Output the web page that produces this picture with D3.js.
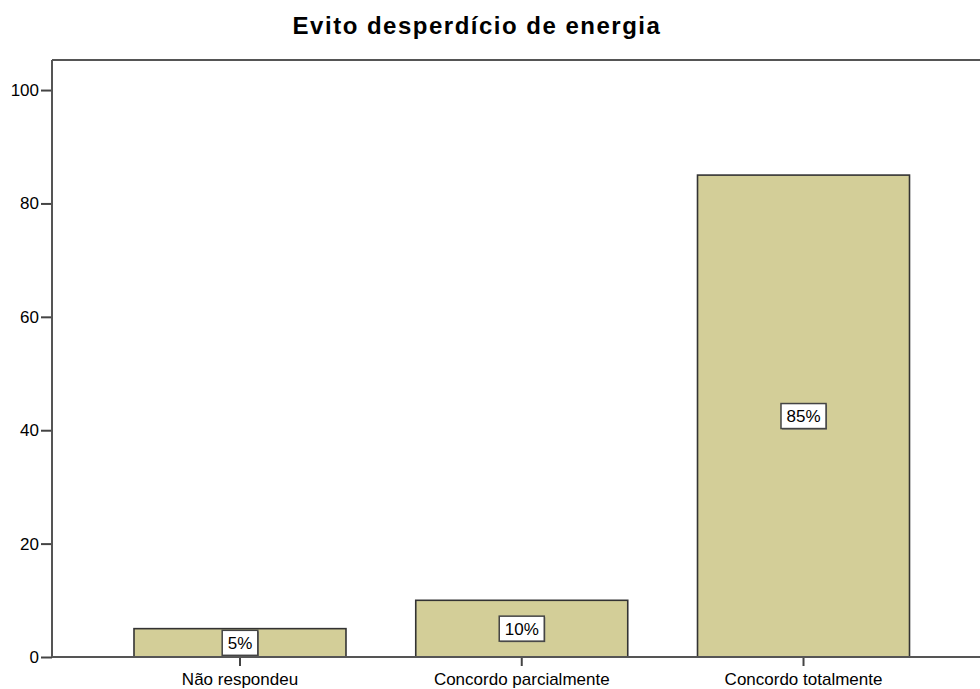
<!DOCTYPE html>
<html>
<head>
<meta charset="utf-8">
<script src="https://cdn.jsdelivr.net/npm/d3@7"></script>
<style>
  body { margin: 0; background: #fff; }
  svg { display: block; font-family: "Liberation Sans", Arial, sans-serif; }
</style>
</head>
<body>
<svg id="chart"></svg>
<script>
var categories = ['Não respondeu', 'Concordo parcialmente', 'Concordo totalmente'];
var values = [5, 10, 85];
var labels = ['5%', '10%', '85%'];
var yTicks = [0, 20, 40, 60, 80, 100];
var title = 'Evito desperdício de energia';

var width = 980, height = 689;
var margin = { top: 60, left: 52, bottom: 32 };
var plotRight = 991.5;
var baseY = height - margin.bottom; // 657

var svg = d3.select('#chart').attr('width', width).attr('height', height);

var x = d3.scaleBand()
    .domain(categories)
    .range([margin.left, plotRight])
    .paddingInner(0.2476)
    .paddingOuter(0.291);

var y = d3.scaleLinear().domain([0, 105.3]).range([baseY, margin.top]);

// title
svg.append('text')
    .attr('x', 477)
    .attr('y', 34)
    .attr('text-anchor', 'middle')
    .style('font-size', '24px')
    .style('font-weight', 'bold')
    .style('letter-spacing', '1.5px')
    .style('fill', '#000')
    .text(title);

// bars
svg.append('g')
    .selectAll('rect')
    .data(values)
    .enter()
    .append('rect')
    .attr('x', function (d, i) { return x(categories[i]); })
    .attr('y', function (d) { return y(d); })
    .attr('width', x.bandwidth())
    .attr('height', function (d) { return y(0) - y(d); })
    .style('fill', '#d3ce98')
    .style('stroke', '#333')
    .style('stroke-width', 1.6);

// frame: top and left
svg.append('line')
    .attr('x1', margin.left).attr('x2', width)
    .attr('y1', margin.top).attr('y2', margin.top)
    .style('stroke', '#555').style('stroke-width', 2);

// Y axis
var yAxis = svg.append('g')
    .attr('transform', 'translate(' + margin.left + ',0)')
    .call(d3.axisLeft(y).tickValues(yTicks).tickSize(11).tickPadding(2));
yAxis.select('.domain').remove();
yAxis.append('line')
    .attr('x1', 0).attr('x2', 0)
    .attr('y1', margin.top).attr('y2', baseY)
    .style('stroke', '#555').style('stroke-width', 2);
yAxis.selectAll('.tick line').style('stroke', '#444').style('stroke-width', 2);
yAxis.selectAll('.tick text')
    .style('font-size', '17px')
    .style('fill', '#000')
    .style('font-family', '"Liberation Sans", Arial, sans-serif');

// X axis
var xAxis = svg.append('g')
    .attr('transform', 'translate(0,' + baseY + ')')
    .call(d3.axisBottom(x).tickSize(9).tickPadding(7));
xAxis.select('.domain').remove();
xAxis.append('line')
    .attr('x1', margin.left).attr('x2', width)
    .attr('y1', 0).attr('y2', 0)
    .style('stroke', '#555').style('stroke-width', 2);
xAxis.selectAll('.tick line').style('stroke', '#444').style('stroke-width', 2);
xAxis.selectAll('.tick text')
    .style('font-size', '17px')
    .style('fill', '#000')
    .style('font-family', '"Liberation Sans", Arial, sans-serif');

// value labels in boxes
var lab = svg.append('g')
    .selectAll('g')
    .data(values)
    .enter()
    .append('g')
    .attr('transform', function (d, i) {
        return 'translate(' + (x(categories[i]) + x.bandwidth() / 2) + ',' + y(d / 2) + ')';
    });

lab.each(function (d, i) {
    var g = d3.select(this);
    var t = g.append('text')
        .attr('text-anchor', 'middle')
        .attr('dy', '0.36em')
        .style('font-size', '17px')
        .style('fill', '#000')
        .text(labels[i]);
    var w = t.node().getComputedTextLength() + 11;
    var h = 25;
    g.insert('rect', 'text')
        .attr('x', -w / 2 + 1).attr('y', -h / 2 + 1)
        .attr('width', w).attr('height', h)
        .style('fill', '#666');
    g.insert('rect', 'text')
        .attr('x', -w / 2).attr('y', -h / 2)
        .attr('width', w).attr('height', h)
        .style('fill', '#fff')
        .style('stroke', '#444')
        .style('stroke-width', 1.5);
});
</script>
</body>
</html>
